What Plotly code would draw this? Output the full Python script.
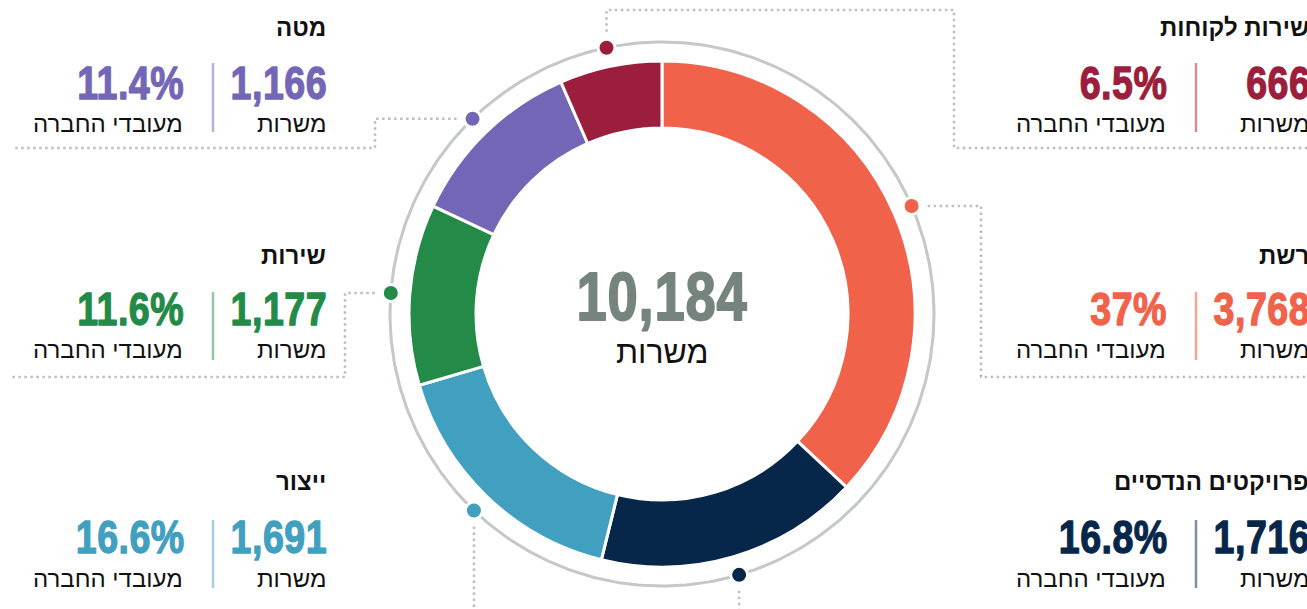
import math
import plotly.graph_objects as go

# ---------------- data ----------------
labels = ["רשת", "פרויקטים הנדסיים", "ייצור", "שירות", "מטה", "שירות לקוחות"]
values = [3768, 1716, 1691, 1177, 1166, 666]
pcts = ["37%", "16.8%", "16.6%", "11.6%", "11.4%", "6.5%"]
total_label = "10,184"
unit_label = "משרות"
pct_sub = "מעובדי החברה"

# ---------------- styles ----------------
colors = ["#F0624A", "#06264A", "#419FC0", "#238A47", "#7466B7", "#9B1F3C"]
sep_colors = ["#F6A696", "#7F8FA4", "#A3CFE0", "#93C7A3", "#B9B2DC", "#D08C9B"]
W, H = 1307, 609
CX, CY = 662, 314
R_OUT, R_IN, R_RING = 253, 186, 272
DOT_GREY = "#BEBEBE"
NUM_FONT_R = "Liberation Sans, Arimo, sans-serif"            # right-anchored numbers (narrowed)
NUM_FONT_C = "Liberation Sans, Arimo, Helvetica, sans-serif"  # centred total (narrowed)
HEB_FONT = "Liberation Sans, DejaVu Sans, sans-serif"

fig = go.Figure()

# donut
fig.add_trace(go.Pie(
    labels=labels, values=values, sort=False, direction="clockwise", rotation=0,
    hole=R_IN / R_OUT, marker=dict(colors=colors, line=dict(color="white", width=3)),
    textinfo="none", hoverinfo="label+value+percent", showlegend=False,
    domain=dict(x=[(CX - R_OUT) / W, (CX + R_OUT) / W],
                y=[(H - CY - R_OUT) / H, (H - CY + R_OUT) / H]),
))

# outer grey ring
ang = [i * 2 * math.pi / 360 for i in range(361)]
fig.add_trace(go.Scatter(
    x=[CX + R_RING * math.sin(a) for a in ang], y=[CY - R_RING * math.cos(a) for a in ang],
    mode="lines", line=dict(color="#C4C8C6", width=3), hoverinfo="skip", showlegend=False))

# dots at slice mid-angles
tot = sum(values)
mids = []
cum = 0
for v in values:
    mids.append((cum + v / 2) / tot * 2 * math.pi)
    cum += v
dots = [(CX + R_RING * math.sin(a), CY - R_RING * math.cos(a)) for a in mids]

# connectors (layout decoration), index aligned with labels
def path(i):
    x, y = dots[i]
    if i == 0:
        return [(x + 16, y), (981, y), (981, 377), (W, 377)]
    if i in (1, 2):
        return [(x, y + 16), (x, H)]
    if i == 3:
        return [(x - 16, y), (345, y), (345, 377), (12, 377)]
    if i == 4:
        return [(x - 16, y), (375, y), (375, 148), (12, 148)]
    return [(x, y - 16), (x, 10), (954, 10), (954, 148), (W, 148)]

for i in range(len(values)):
    p = path(i)
    fig.add_trace(go.Scatter(
        x=[q[0] for q in p], y=[q[1] for q in p], mode="lines",
        line=dict(color=DOT_GREY, width=2.5, dash="2.5px,3.5px"),
        hoverinfo="skip", showlegend=False))

fig.add_trace(go.Scatter(
    x=[d[0] for d in dots], y=[d[1] for d in dots], mode="markers",
    marker=dict(size=17, color=colors, line=dict(color="white", width=3)),
    hoverinfo="skip", showlegend=False))

# ---------------- text blocks ----------------
block_pos = {0: (W, 1, 4), 1: (W, 2, 4), 2: (328, 2, 0), 3: (328, 1, 0), 4: (328, 0, 0), 5: (W, 0, 4)}
row_y = [(27, 82, 123, 63, 132), (255, 308, 349, 292, 360), (481, 536, 578, 520, 588)]

anns = []
shapes = []
for i, lab in enumerate(labels):
    xr, row, xs = block_pos[i]
    ty, ny, sy, s0, s1 = row_y[row]
    xp = xr - 143
    xsep = xr - 115
    anns.append(dict(x=xr, y=ty, xshift=xs, text=f"<b>{lab}</b>", xanchor="right", yanchor="middle",
                     font=dict(family=HEB_FONT, size=24, color="#111111")))
    anns.append(dict(x=xr, y=ny, xshift=xs, text=f"<b>{values[i]:,}</b>", xanchor="right", yanchor="middle",
                     font=dict(family=NUM_FONT_R, size=47, color=colors[i])))
    anns.append(dict(x=xp, y=ny, xshift=xs, text=f"<b>{pcts[i]}</b>", xanchor="right", yanchor="middle",
                     font=dict(family=NUM_FONT_R, size=47, color=colors[i])))
    anns.append(dict(x=xr, y=sy, xshift=xs, text=unit_label, xanchor="right", yanchor="middle",
                     font=dict(family=HEB_FONT, size=24, color="#111111")))
    anns.append(dict(x=xp, y=sy, xshift=xs, text=pct_sub, xanchor="right", yanchor="middle",
                     font=dict(family=HEB_FONT, size=24, color="#111111")))
    shapes.append(dict(type="line", xref="x", yref="y", x0=xsep + xs, x1=xsep + xs, y0=s0, y1=s1,
                       line=dict(color=sep_colors[i], width=2.5)))

anns.append(dict(x=CX, y=296, text=f"<b>{total_label}</b>", xanchor="center", yanchor="middle",
                 font=dict(family=NUM_FONT_C, size=68, color="#76847E")))
anns.append(dict(x=CX, y=352, text=unit_label, xanchor="center", yanchor="middle",
                 font=dict(family=HEB_FONT, size=32, color="#111111")))

for a in anns:
    a.update(xref="x", yref="y", showarrow=False)

fig.update_layout(
    width=W, height=H, margin=dict(l=0, r=0, t=0, b=0),
    paper_bgcolor="white", plot_bgcolor="white",
    xaxis=dict(range=[0, W], visible=False, fixedrange=True),
    yaxis=dict(range=[H, 0], visible=False, fixedrange=True),
    annotations=anns, shapes=shapes,
)

# remove page margin; narrow + embolden the numeric figures (condensed heavy look)
post = """
document.body.style.margin='0';
document.body.style.overflow='hidden';
(function(){
  var gd = document.getElementById('{plot_id}');
  function fix(){
    document.querySelectorAll('g.annotation text').forEach(function(t){
      var ff = t.style.fontFamily || '';
      if (ff.indexOf('Arimo') < 0) return;
      var centre = ff.indexOf('Helvetica') >= 0;
      t.style.letterSpacing = centre ? '1px' : '0.6px';
      var bb = t.getBBox();
      var ax = centre ? bb.x + bb.width/2 : bb.x + bb.width;
      t.setAttribute('transform', 'translate(' + ax + ',0) scale(0.80,1) translate(' + (-ax) + ',0)');
      t.style.stroke = t.style.fill;
      t.style.strokeWidth = centre ? '1.8px' : '1.3px';
      t.style.strokeLinejoin = 'round';
    });
  }
  fix();
  setTimeout(fix, 0); setTimeout(fix, 100); setTimeout(fix, 500);
  if (gd && gd.on) gd.on('plotly_afterplot', fix);
})();
"""
fig.write_html("out.html", post_script=post, config={"displayModeBar": False})
